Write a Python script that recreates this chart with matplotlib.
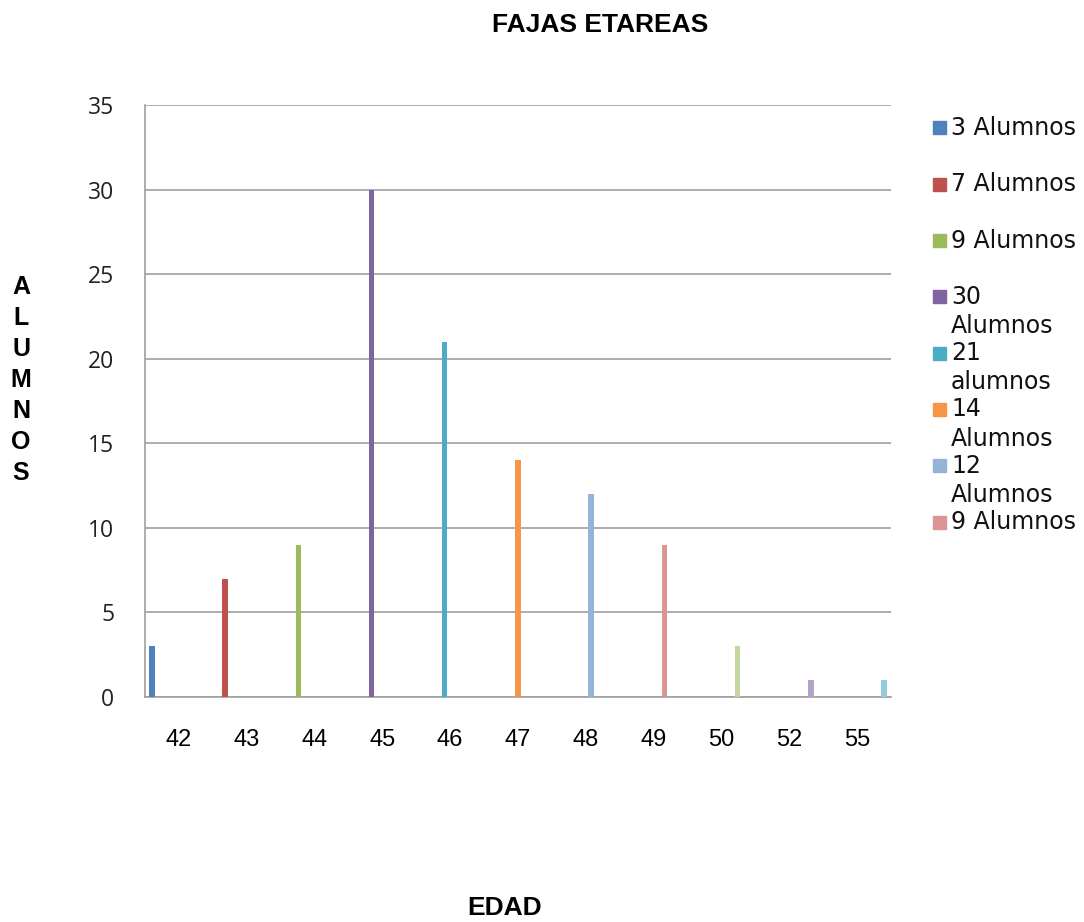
import matplotlib
matplotlib.use("Agg")
import matplotlib.pyplot as plt
from matplotlib.patches import Rectangle

# edades (categorias) y cantidad de alumnos por edad
edades = ["42", "43", "44", "45", "46", "47", "48", "49", "50", "52", "55"]
alumnos = [3, 7, 9, 30, 21, 14, 12, 9, 3, 1, 1]
series = ["3 Alumnos", "7 Alumnos", "9 Alumnos", "30\nAlumnos", "21\nalumnos",
          "14\nAlumnos", "12\nAlumnos", "9 Alumnos", "3 Alumnos", "1 Alumno", "1 Alumno"]
colores = ["#4F81BD", "#C0504D", "#9BBB59", "#8064A2", "#4BACC6", "#F79646",
           "#95B3D7", "#D99694", "#C3D69B", "#B3A2C7", "#93CDDD"]
y_ticks = [0, 5, 10, 15, 20, 25, 30, 35]
n_leyenda = 8  # la leyenda solo muestra las primeras 8 series

fig = plt.figure(figsize=(10.84, 9.22), dpi=100)
ax = fig.add_axes([0.1338, 0.244, 0.688, 0.642])

# barras agrupadas estilo excel: 11 series, cada una con un solo valor
n = len(series)
w = 1.0 / (n + 1.5)
for i, (val, col) in enumerate(zip(alumnos, colores)):
    x = i - 0.5 + w * (0.75 + i + 0.5)
    ax.bar(x, val, width=w, color=col, zorder=3)

ax.set_xlim(-0.5, n - 0.5)
ax.set_ylim(0, 35)
ax.set_yticks(y_ticks)
ax.set_yticklabels([str(t) for t in y_ticks], family="Open Sans", fontsize=16.5, color="#222222")
ax.set_xticks(range(n))
ax.set_xticklabels(edades, family="Liberation Sans", fontsize=17)
ax.tick_params(axis="x", length=0, pad=23)
ax.tick_params(axis="y", length=0, pad=22)
ax.grid(axis="y", color="#A0A0A0", lw=1.2, zorder=0)
for s in ["top", "right"]:
    ax.spines[s].set_visible(False)
for s in ["left", "bottom"]:
    ax.spines[s].set_color("#A0A0A0")
    ax.spines[s].set_linewidth(1.2)

W, H = 1084, 922

fig.text(600 / W, 1 - 25 / H, "FAJAS ETAREAS", ha="center", va="center",
         family="Liberation Sans", weight="bold", fontsize=19)
fig.text(505 / W, 1 - 908 / H, "EDAD", ha="center", va="center",
         family="Liberation Sans", weight="bold", fontsize=19)
for k, letra in enumerate("ALUMNOS"):
    fig.text(21 / W, 1 - (287 + 31 * k) / H, letra, ha="center", va="center",
             family="Liberation Sans", weight="bold", fontsize=18)

# leyenda dibujada a mano, filas con el mismo espaciado
for k in range(n_leyenda):
    yc = 128 + 56.3 * k
    fig.add_artist(Rectangle((933 / W, 1 - (yc + 6.5) / H), 13 / W, 13 / H,
                             transform=fig.transFigure, color=colores[k]))
    fig.text(951 / W, 1 - (yc - 12) / H, series[k], ha="left", va="top",
             family="DejaVu Sans", fontsize=17, linespacing=1.27, color="#111111")

fig.savefig("out.png", dpi=100)
